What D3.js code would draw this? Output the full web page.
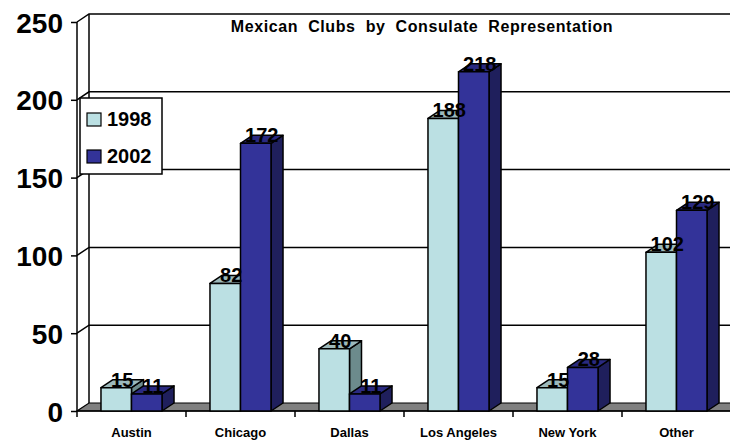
<!DOCTYPE html>
<html>
<head>
<title>Mexican Clubs by Consulate Representation</title>
<script src="https://d3js.org/d3.v7.min.js"></script>
<style>
  body { margin: 0; background: #fff; }
  svg text { font-family: "Liberation Sans", Arial, sans-serif; font-weight: bold; }
</style>
</head>
<body>
<svg width="730" height="440"></svg>
<script>
var categories = ["Austin", "Chicago", "Dallas", "Los Angeles", "New York", "Other"];
var years = ["1998", "2002"];
var values1998 = [15, 82, 40, 188, 15, 102];
var values2002 = [11, 172, 11, 218, 28, 129];
var yTicks = [0, 50, 100, 150, 200, 250];

var svg = d3.select("svg");

// front plane box + depth offset for the fake 3D look
var pLeft = 77, pRight = 731, pTop = 22, pBottom = 411;
var dx = 12, dy = -8;

var x0 = d3.scaleBand().domain(categories).range([pLeft, pRight]);
var x1 = d3.scaleBand().domain(years)
    .range([x0.bandwidth() * 0.22, x0.bandwidth() * 0.78]);
var y = d3.scaleLinear().domain([0, 250]).range([pBottom, pTop]);

var colors = {
    "1998": { front: "#bbe0e3", top: "#9cb9bb", side: "#6c8b8c" },
    "2002": { front: "#333399", top: "#2a2a80", side: "#1f1f5c" }
};

// back wall gridlines and side-wall diagonals
var grid = svg.append("g");
yTicks.forEach(function(t) {
    if (t === 0) return;
    grid.append("path")
        .attr("d", "M" + pLeft + "," + y(t) + "L" + (pLeft + dx) + "," + (y(t) + dy) + "H" + (pRight + dx))
        .attr("fill", "none").attr("stroke", "#000").attr("stroke-width", 1.5);
});
grid.append("line")
    .attr("x1", pLeft + dx).attr("x2", pLeft + dx)
    .attr("y1", y(250) + dy).attr("y2", y(0) + dy)
    .attr("stroke", "#000").attr("stroke-width", 1.5);

// floor
svg.append("polygon")
    .attr("points", [[pLeft, y(0)], [pRight, y(0)], [pRight + dx, y(0) + dy], [pLeft + dx, y(0) + dy]].join(" "))
    .attr("fill", "#808080").attr("stroke", "#000").attr("stroke-width", 1.2);

// y axis on the front plane
var yAxis = svg.append("g")
    .attr("transform", "translate(" + pLeft + ",0)")
    .call(d3.axisLeft(y).tickValues(yTicks).tickSize(6).tickPadding(8));
yAxis.select(".domain").attr("stroke-width", 1.5).attr("d", "M0," + y(250) + "V" + y(0));
yAxis.selectAll(".tick line").attr("stroke-width", 1.5);
yAxis.selectAll(".tick text")
    .attr("font-size", "28px").attr("font-family", null).attr("dy", "0.36em").attr("fill", "#000");

// x axis ticks at category boundaries
var xAxis = svg.append("g")
    .attr("transform", "translate(0," + y(0) + ")");
xAxis.append("line").attr("x1", pLeft).attr("x2", pRight).attr("stroke", "#000").attr("stroke-width", 1.5);
categories.forEach(function(c) {
    xAxis.append("line")
        .attr("x1", x0(c)).attr("x2", x0(c)).attr("y1", 0).attr("y2", 6)
        .attr("stroke", "#000").attr("stroke-width", 1.5);
});
xAxis.append("line")
    .attr("x1", pRight).attr("x2", pRight).attr("y1", 0).attr("y2", 6)
    .attr("stroke", "#000").attr("stroke-width", 1.5);
xAxis.selectAll(".cat")
    .data(categories)
    .enter().append("text")
    .attr("x", function(d) { return x0(d) + x0.bandwidth() / 2; })
    .attr("y", 26)
    .attr("text-anchor", "middle")
    .attr("font-size", "13px")
    .text(function(d) { return d; });

// bars
var rows = [];
categories.forEach(function(c, i) {
    rows.push({ cat: c, year: "1998", value: values1998[i] });
    rows.push({ cat: c, year: "2002", value: values2002[i] });
});

var bars = svg.append("g");
rows.forEach(function(d) {
    var xl = x0(d.cat) + x1(d.year), xr = xl + x1.bandwidth();
    var yt = y(d.value), yb = y(0);
    var col = colors[d.year];
    var g = bars.append("g").attr("stroke", "#000").attr("stroke-width", 1.5).attr("stroke-linejoin", "round");
    g.append("polygon")
        .attr("points", [[xr, yt], [xr + dx, yt + dy], [xr + dx, yb + dy], [xr, yb]].join(" "))
        .attr("fill", col.side);
    g.append("polygon")
        .attr("points", [[xl, yt], [xl + dx, yt + dy], [xr + dx, yt + dy], [xr, yt]].join(" "))
        .attr("fill", col.top);
    g.append("rect")
        .attr("x", xl).attr("y", yt)
        .attr("width", xr - xl).attr("height", yb - yt)
        .attr("fill", col.front);
});

// value labels
svg.append("g").selectAll("text")
    .data(rows)
    .enter().append("text")
    .attr("x", function(d) { return x0(d.cat) + x1(d.year) + x1.bandwidth() / 2 + dx / 2; })
    .attr("y", function(d) { return y(d.value) - 1; })
    .attr("text-anchor", "middle")
    .attr("font-size", "20px")
    .attr("fill", "#000")
    .text(function(d) { return d.value; });

// title
svg.append("text")
    .attr("x", 422).attr("y", 32)
    .attr("text-anchor", "middle")
    .attr("font-size", "16px")
    .attr("letter-spacing", "0.6px")
    .attr("word-spacing", "5px")
    .text("Mexican Clubs by Consulate Representation");

// legend
var legend = svg.append("g").attr("transform", "translate(80,98)");
legend.append("rect")
    .attr("width", 82).attr("height", 76)
    .attr("fill", "#fff").attr("stroke", "#000").attr("stroke-width", 1.5);
years.forEach(function(yr, i) {
    var row = legend.append("g").attr("transform", "translate(7," + (15 + i * 37) + ")");
    row.append("rect")
        .attr("width", 14).attr("height", 13)
        .attr("fill", colors[yr].front).attr("stroke", "#000").attr("stroke-width", 1.2);
    row.append("text")
        .attr("x", 20).attr("y", 13)
        .attr("font-size", "20px")
        .text(yr);
});
</script>
</body>
</html>
